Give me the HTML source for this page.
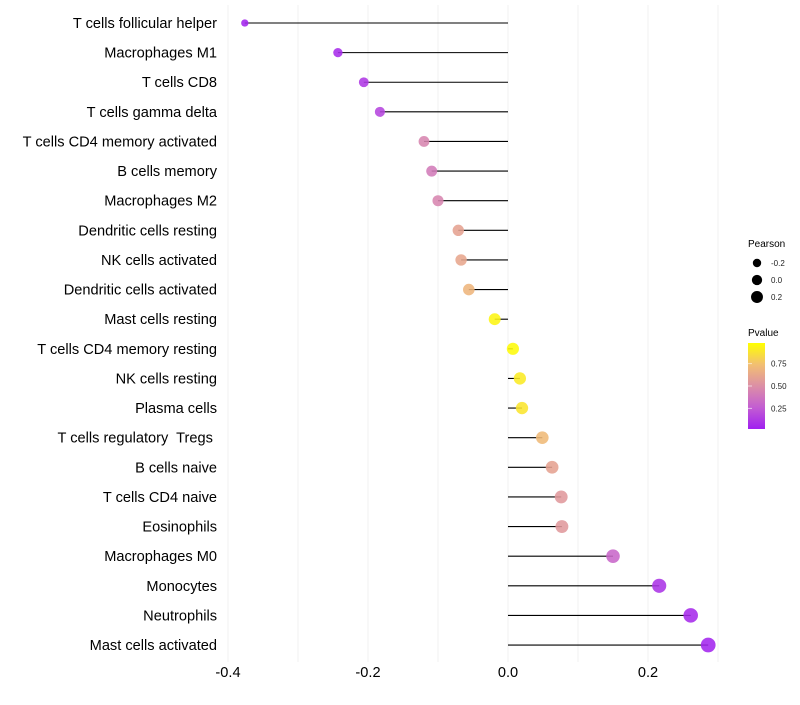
<!DOCTYPE html>
<html><head><meta charset="utf-8"><style>
body{margin:0;background:#fff;font-family:"Liberation Sans",sans-serif}
svg text{font-family:"Liberation Sans",sans-serif;white-space:pre}
</style></head><body>
<svg id="chart" width="800" height="700" xmlns="http://www.w3.org/2000/svg">
<g id="grid"></g>
<g id="marks"></g>
<g id="ylabels"></g>
<g id="xlabels"></g>
<g id="legend">
<defs><linearGradient id="pg" x1="0" y1="1" x2="0" y2="0">
<stop offset="0" stop-color="#A020F0"/><stop offset="0.25" stop-color="#C35DD2"/><stop offset="0.5" stop-color="#DC8FA6"/><stop offset="0.75" stop-color="#F2BF72"/><stop offset="1" stop-color="#FFFF00"/></linearGradient></defs>
<text x="748" y="247" font-size="10">Pearson</text>
<g id="sizeleg"></g>
<text x="748" y="336" font-size="10">Pvalue</text>
<rect x="748" y="343" width="17" height="86" fill="url(#pg)"/>
<g id="colorticks"></g>
</g>
</svg>
<script>
const categories=["T cells follicular helper","Macrophages M1","T cells CD8","T cells gamma delta","T cells CD4 memory activated","B cells memory","Macrophages M2","Dendritic cells resting","NK cells activated","Dendritic cells activated","Mast cells resting","T cells CD4 memory resting","NK cells resting","Plasma cells","T cells regulatory  Tregs ","B cells naive","T cells CD4 naive","Eosinophils","Macrophages M0","Monocytes","Neutrophils","Mast cells activated"];
const pearson=[-0.376,-0.243,-0.206,-0.183,-0.12,-0.109,-0.1,-0.071,-0.067,-0.056,-0.019,0.007,0.017,0.02,0.049,0.063,0.076,0.077,0.15,0.216,0.261,0.286];
const pvalues=[0.02,0.05,0.1,0.15,0.45,0.4,0.45,0.6,0.62,0.7,0.96,0.98,0.92,0.9,0.72,0.6,0.55,0.55,0.3,0.08,0.04,0.02];
const xTicks=[-0.4,-0.2,0.0,0.2];
const xTickLabels=["-0.4","-0.2","0.0","0.2"];
const sizeLegend=[-0.2,0.0,0.2];
const colorTicks=[0.75,0.5,0.25];
const NS="http://www.w3.org/2000/svg";
const x=v=>508+v*700;
const y=i=>23+i*29.62;
const r=v=>Math.sqrt(Math.max(4,36.8+62*v));
const rl=v=>0.85*r(v);
const stops=[[0,[160,32,240]],[0.25,[195,93,210]],[0.5,[220,143,166]],[0.75,[242,191,114]],[1,[255,255,0]]];
function col(p){for(let k=1;k<stops.length;k++){if(p<=stops[k][0]){const a=stops[k-1],b=stops[k];const t=(p-a[0])/(b[0]-a[0]);return "rgb("+a[1].map((c,j)=>Math.round(c+(b[1][j]-c)*t)).join(",")+")";}}return "rgb(255,255,0)";}
function mk(tag,attrs,parent){const e=document.createElementNS(NS,tag);for(const k in attrs)e.setAttribute(k,attrs[k]);document.getElementById(parent).appendChild(e);return e;}
for(let v=-0.4;v<=0.301;v+=0.1){const g=mk("line",{x1:x(v),x2:x(v),y1:5,y2:662,stroke:"#f0f0f0","stroke-width":1},"grid");

}
categories.forEach((c,i)=>{
const l=mk("line",{x1:x(0),x2:x(pearson[i]),y1:y(i),y2:y(i),stroke:"#000","stroke-width":1.1},"marks");


const d=mk("circle",{cx:x(pearson[i]),cy:y(i),r:r(pearson[i]),fill:col(pvalues[i]),"fill-opacity":0.88},"marks");


const t=mk("text",{x:217,y:y(i)+5,"text-anchor":"end","font-size":14.6,fill:"#000"},"ylabels");t.textContent=c;


});
xTicks.forEach((v,i)=>{const t=mk("text",{x:x(v),y:677,"text-anchor":"middle","font-size":14.6,fill:"#000"},"xlabels");t.textContent=xTickLabels[i];

});
sizeLegend.forEach((v,i)=>{const cy=263+i*17;
const c=mk("circle",{cx:757,cy:cy,r:rl(v),fill:"#000"},"sizeleg");


const t=mk("text",{x:771,y:cy+3,"font-size":8,fill:"#222"},"sizeleg");t.textContent=v.toFixed(1);

});
colorTicks.forEach(v=>{const cy=429-(v-0.02)/0.96*86;
const t=mk("text",{x:771,y:cy+3,"font-size":8,fill:"#222"},"colorticks");t.textContent=v.toFixed(2);


const tk=mk("line",{x1:748,x2:752,y1:cy,y2:cy,stroke:"#fff","stroke-opacity":0.6},"colorticks");

});
</script>
</body></html>
